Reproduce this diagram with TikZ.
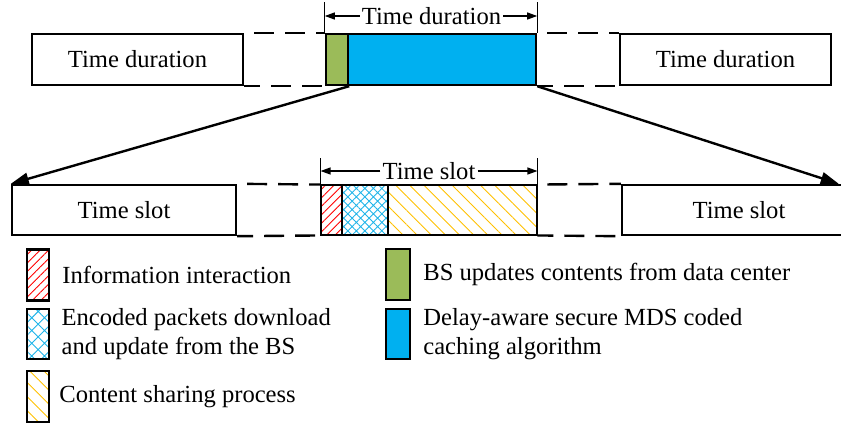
\documentclass[tikz,border=0pt]{standalone}
\usepackage{fontspec}
\setmainfont{Liberation Serif}
\usetikzlibrary{arrows.meta,patterns.meta,positioning}

\definecolor{bsgreen}{HTML}{9BBB59}
\definecolor{algblue}{HTML}{00B0F0}
\definecolor{crossblue}{HTML}{1FB4E9}
\definecolor{shareyellow}{HTML}{FFC000}

\begin{document}
\begin{tikzpicture}[x=1pt,y=-1pt,
	txt/.style={font=\fontsize{24.6}{29}\selectfont},
	box/.style={draw,line width=2.4pt,inner sep=0pt,txt},
	gaptop/.style={line width=2.4pt,dash pattern=on 20pt off 11pt,dash phase=21pt},
	gapbot/.style={line width=2.4pt,dash pattern=on 20pt off 11pt,dash phase=4pt},
	zoomline/.style={line width=2.4pt,-{Triangle[length=18pt,width=12pt]}},
	dim/.style={line width=1.2pt,-{Triangle[length=10pt,width=7pt]}},
	tick/.style={line width=1.2pt},
	key/.style={draw,line width=2.4pt,inner sep=0pt,minimum width=22pt,minimum height=51pt},
	keytext/.style={anchor=west,inner sep=0pt,txt,align=left}]
	\useasboundingbox (0,0) rectangle (841,426);
	% time durations
	\node[box,minimum width=211pt,minimum height=51pt] (durL) at (137.5,59.5) {Time duration};
	\node[box,minimum width=22pt,minimum height=51pt,fill=bsgreen] (upd) at (337,59.5) {};
	\node[box,minimum width=188pt,minimum height=51pt,fill=algblue] (alg) at (442,59.5) {};
	\node[box,minimum width=211pt,minimum height=51pt] (durR) at (725.5,59.5) {Time duration};
	\draw[gaptop] (durL.north east) -- (upd.north west);
	\draw[gapbot] (durL.south east) -- (upd.south west);
	\draw[gaptop] (alg.north east) -- (durR.north west);
	\draw[gapbot] (alg.south east) -- (durR.south west);
	% duration length
	\node[txt,inner sep=2pt] (dtop) at (431.5,16) {Time duration};
	\draw[tick] (upd.north west) -- ++(0,-31);
	\draw[tick] (alg.north east) -- ++(0,-31);
	\draw[dim] (dtop.west) -- (dtop.west -| upd.north west);
	\draw[dim] (dtop.east) -- (dtop.east -| alg.north east);
	% time slots (right one runs past the edge)
	\node[box,minimum width=224pt,minimum height=50pt] (slotL) at (124,210) {Time slot};
	\node[box,minimum width=21pt,minimum height=50pt,pattern={Lines[angle=45,distance=6pt,line width=0.9pt]},pattern color=red] (info) at (331.5,210) {};
	\node[box,minimum width=46pt,minimum height=50pt,pattern={Hatch[angle=45,distance=6pt,line width=0.8pt]},pattern color=crossblue] (pkt) at (365,210) {};
	\node[box,minimum width=149pt,minimum height=50pt,pattern={Lines[angle=-45,distance=10pt,line width=0.9pt]},pattern color=shareyellow] (share) at (462.5,210) {};
	\node[box,minimum width=234pt,minimum height=50pt] (slotR) at (739,210) {Time slot};
	\draw[gaptop] (slotL.north east) -- (info.north west);
	\draw[gapbot] (slotL.south east) -- (info.south west);
	\draw[gaptop] (share.north east) -- (slotR.north west);
	\draw[gapbot] (share.south east) -- (slotR.south west);
	% slot length
	\node[txt,inner sep=2pt] (dbot) at (429,171) {Time slot};
	\draw[tick] (info.north west) -- ++(0,-27);
	\draw[tick] (share.north east) -- ++(0,-27);
	\draw[dim] (dbot.west) -- (dbot.west -| info.north west);
	\draw[dim] (dbot.east) -- (dbot.east -| share.north east);
	% zoom in
	\coordinate (tipR) at ([xshift=218pt]slotR.north west);
	\draw[zoomline] (upd.south east) -- (slotL.north west);
	\draw[zoomline] (alg.south east) -- (tipR);
	% legend
	\node[key,pattern={Lines[angle=45,distance=6pt,line width=0.9pt]},pattern color=red] (k1) at (38,275) {};
	\node[key,minimum height=50pt,pattern={Hatch[angle=45,distance=9pt,line width=0.9pt]},pattern color=crossblue] (k2) at (38,334) {};
	\node[key,pattern={Lines[angle=-45,distance=10pt,line width=0.9pt]},pattern color=shareyellow] (k3) at (38,396.5) {};
	\node[key,minimum width=24pt,fill=bsgreen] (k4) at (398,274.5) {};
	\node[key,minimum width=24pt,minimum height=50pt,fill=algblue] (k5) at (398,334) {};
	\node[keytext,right=12pt of k1] (l1) {Information interaction};
	\node[keytext,right=12pt of k2] (l2) {Encoded packets download\\and update from the BS};
	\node[keytext,right=9pt of k3] (l3) {Content sharing process};
	\node[keytext,right=12pt of k4] (l4) {BS updates contents from data center};
	\node[keytext,right=12pt of k5] (l5) {Delay-aware secure MDS coded\\caching algorithm};
\end{tikzpicture}
\end{document}
